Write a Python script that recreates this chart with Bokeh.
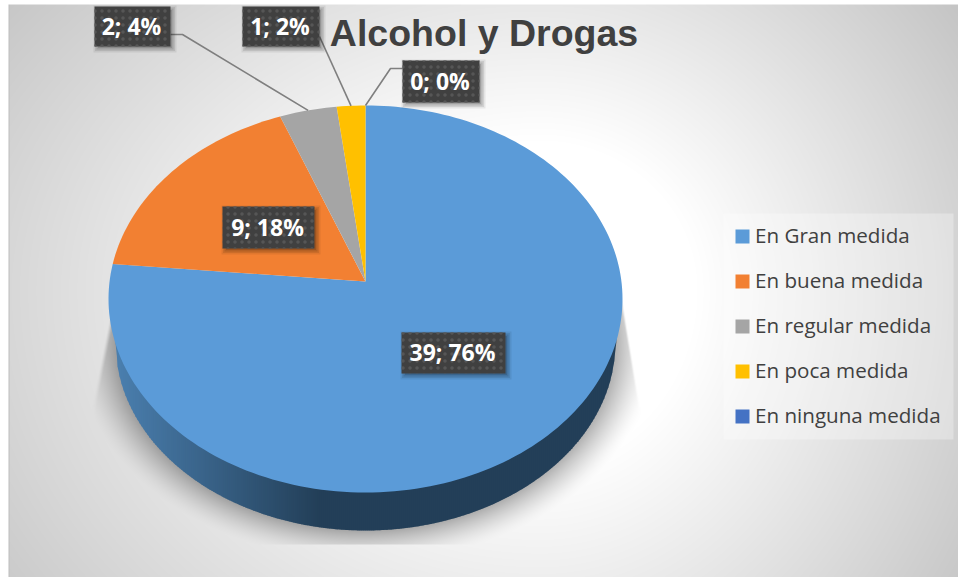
import numpy as np
from bokeh.plotting import figure
from bokeh.models import Range1d
from bokeh.core.properties import value
from bokeh.embed import file_html
from bokeh.resources import INLINE

# ---- data
title_text = "Alcohol y Drogas"
categories = ["En Gran medida", "En buena medida", "En regular medida", "En poca medida", "En ninguna medida"]
counts = [39, 9, 2, 1, 0]
colors = ["#5B9BD8", "#F28032", "#A5A5A5", "#FFC000", "#4472C4"]

# ---- layout (page pixels)
W, H = 958, 577
X0, Y0 = 0, 0
CX, CY, RX, RY = 365.0, 298.5, 257.0, 193.5   # top face rim
APEX_SHIFT = 0.09                              # perspective shift of the centre
BX, BY, BRX, BRY = 365.0, 342.0, 250.0, 188.0  # bottom rim of the side wall
label_boxes = [(401, 505, 332, 373), (222, 314, 206, 248), (94, 170, 6, 46), (242, 319, 6, 46), (402, 479, 60, 102)]
leader_elbows = {2: [(170, 34), (182, 34)], 3: [(319, 36)], 4: [(402, 68), (390, 68)]}

total = sum(counts)
fractions = [c / total for c in counts]
labels = [f"{c}; {round(100 * f)}%" for c, f in zip(counts, fractions)]


def rim(angle):
    """Point of the top rim for a pie angle (radians, clockwise from 12 o'clock)."""
    u, v = np.sin(angle), np.cos(angle)
    e = APEX_SHIFT
    d = 1 + e * v
    return CX + RX * u * np.sqrt(1 - e * e) / d, CY - RY * (v + e) / d


apex = (CX, CY - RY * APEX_SHIFT)

p = figure(width=W, height=H, x_range=Range1d(X0, X0 + W), y_range=Range1d(Y0 + H, Y0),
           output_backend="svg", toolbar_location=None, min_border=0)
p.axis.visible = False
p.grid.visible = False
p.outline_line_color = None
p.extra_y_ranges = {"img": Range1d(0, H)}

# ---- background gradient with the pie's soft shadow
xx, yy = np.meshgrid(np.arange(X0, X0 + W) + 0.5, np.arange(Y0, Y0 + H) + 0.5)
dx = (xx - 540) / np.where(xx < 540, 600, 450)
dy = (yy - 290) / np.where(yy < 290, 430, 500)
t = np.sqrt(dx ** 2 + dy ** 2)
bg = 255 - 55 * np.clip((t - 0.35) / 0.75, 0, 1.1)
r = np.sqrt(((xx - BX) / BRX) ** 2 + ((yy - BY) / BRY) ** 2)
dist = np.clip((r - 1) * 220, 0, None)
sh = 0.30 * np.clip(1 - dist / 36, 0, 1) ** 1.5
left_edge = np.where(yy < 405, 113 - (yy - 300) * 21 / 105, 92)
right_edge = np.where(yy < 410, 622 + (yy - 300) * 18 / 110, 640)
sh = sh * np.clip((xx - left_edge) / 4, 0, 1) * np.clip((right_edge - xx) / 2, 0, 1)
sh = sh * (yy >= 300) * (yy <= 544)
grey = (bg * (1 - sh)).astype(np.uint32)
grey[:, 8:9] = 190
grey[:, :8] = 255
grey[:4, :] = 255
img = (np.uint32(255) << 24) | (grey << 16) | (grey << 8) | grey
p.image_rgba(image=[img[::-1].astype(np.uint32)], x=X0, y=0, dw=W, dh=H, y_range_name="img")

# ---- side wall (narrow strips, dark in the middle, lighter to the left)
def top(x):
    q = np.clip((x - CX) / RX, -1, 1)
    return CY + RY * np.sqrt(1 - q * q)

def bot(x):
    q = np.clip((x - BX) / BRX, -1, 1)
    return BY + BRY * np.sqrt(1 - q * q)

edges = np.arange(BX - BRX, BX + BRX + 2, 2.0)
for a, b in zip(edges[:-1], edges[1:]):
    b2 = b + 0.8
    m = (a + b) / 2
    k = np.clip((320 - m) / 200, 0, 1)
    col = tuple(int(c0 + (c1 - c0) * k) for c0, c1 in zip((0x23, 0x3F, 0x58), (0x4A, 0x7E, 0xAD)))
    p.patch([a, b2, b2, a], [top(a) - 3, top(b2) - 3, bot(b2), bot(a)], color="#%02x%02x%02x" % col, line_color=None)

# ---- top face wedges
cum = np.cumsum([0] + fractions) * 2 * np.pi
xs, ys, fills = [], [], []
for i in range(len(counts)):
    if counts[i] == 0:
        continue
    aa = np.linspace(cum[i], cum[i + 1], max(3, int(240 * fractions[i]) + 3))
    rx_, ry_ = rim(aa)
    xs.append(np.r_[apex[0], rx_].tolist())
    ys.append(np.r_[apex[1], ry_].tolist())
    fills.append(colors[i])
p.patches(xs, ys, fill_color=fills, line_color=None)

# ---- leader lines
for i, pts in leader_elbows.items():
    mid = (cum[i] + cum[i + 1]) / 2
    ex, ey = rim(mid)
    p.line([q[0] for q in pts] + [ex], [q[1] for q in pts] + [ey], line_color="#7f7f7f", line_width=1.6)

# ---- data labels
for txt, (l, r_, t_, b_) in zip(labels, label_boxes):
    for g, al in zip((7, 5.5, 4, 2.5), (0.07, 0.09, 0.11, 0.13)):
        p.quad(left=l + 6 - g, right=r_ + g - 1, top=t_ + 6 - g, bottom=b_ + g - 1,
               fill_color="#000000", fill_alpha=al, line_color=None)
    p.quad(left=l, right=r_, top=t_, bottom=b_, fill_color="#404040", line_color=None,
           hatch_pattern="dot", hatch_color="#565656", hatch_scale=7, hatch_weight=1.0)
    p.text(x=[(l + r_) / 2 - 1], y=[(t_ + b_) / 2 - 1], text=[txt], text_align="center", text_baseline="middle",
           text_color="#FFFFFF", text_font=value("Open Sans"), text_font_style="bold", text_font_size="23px")

# ---- title
p.text(x=[483.5], y=[32], text=[title_text], text_align="center", text_baseline="middle",
       text_color="#404040", text_font=value("Liberation Sans"), text_font_style="bold", text_font_size="37.5px")

# ---- legend panel
p.quad(left=723, right=953, top=213, bottom=439, fill_color="#FFFFFF", fill_alpha=0.3, line_color=None)
for i, (cat, col) in enumerate(zip(categories, colors)):
    yc = 236 + 45 * i
    p.quad(left=735, right=749, top=yc - 7, bottom=yc + 7, fill_color=col, line_color=None)
    p.text(x=[754.5], y=[yc - 2], text=[cat], text_align="left", text_baseline="middle",
           text_color="#404040", text_font=value("Open Sans"), text_font_size="20.6px")

open("out.html", "w").write(file_html(p, INLINE))
